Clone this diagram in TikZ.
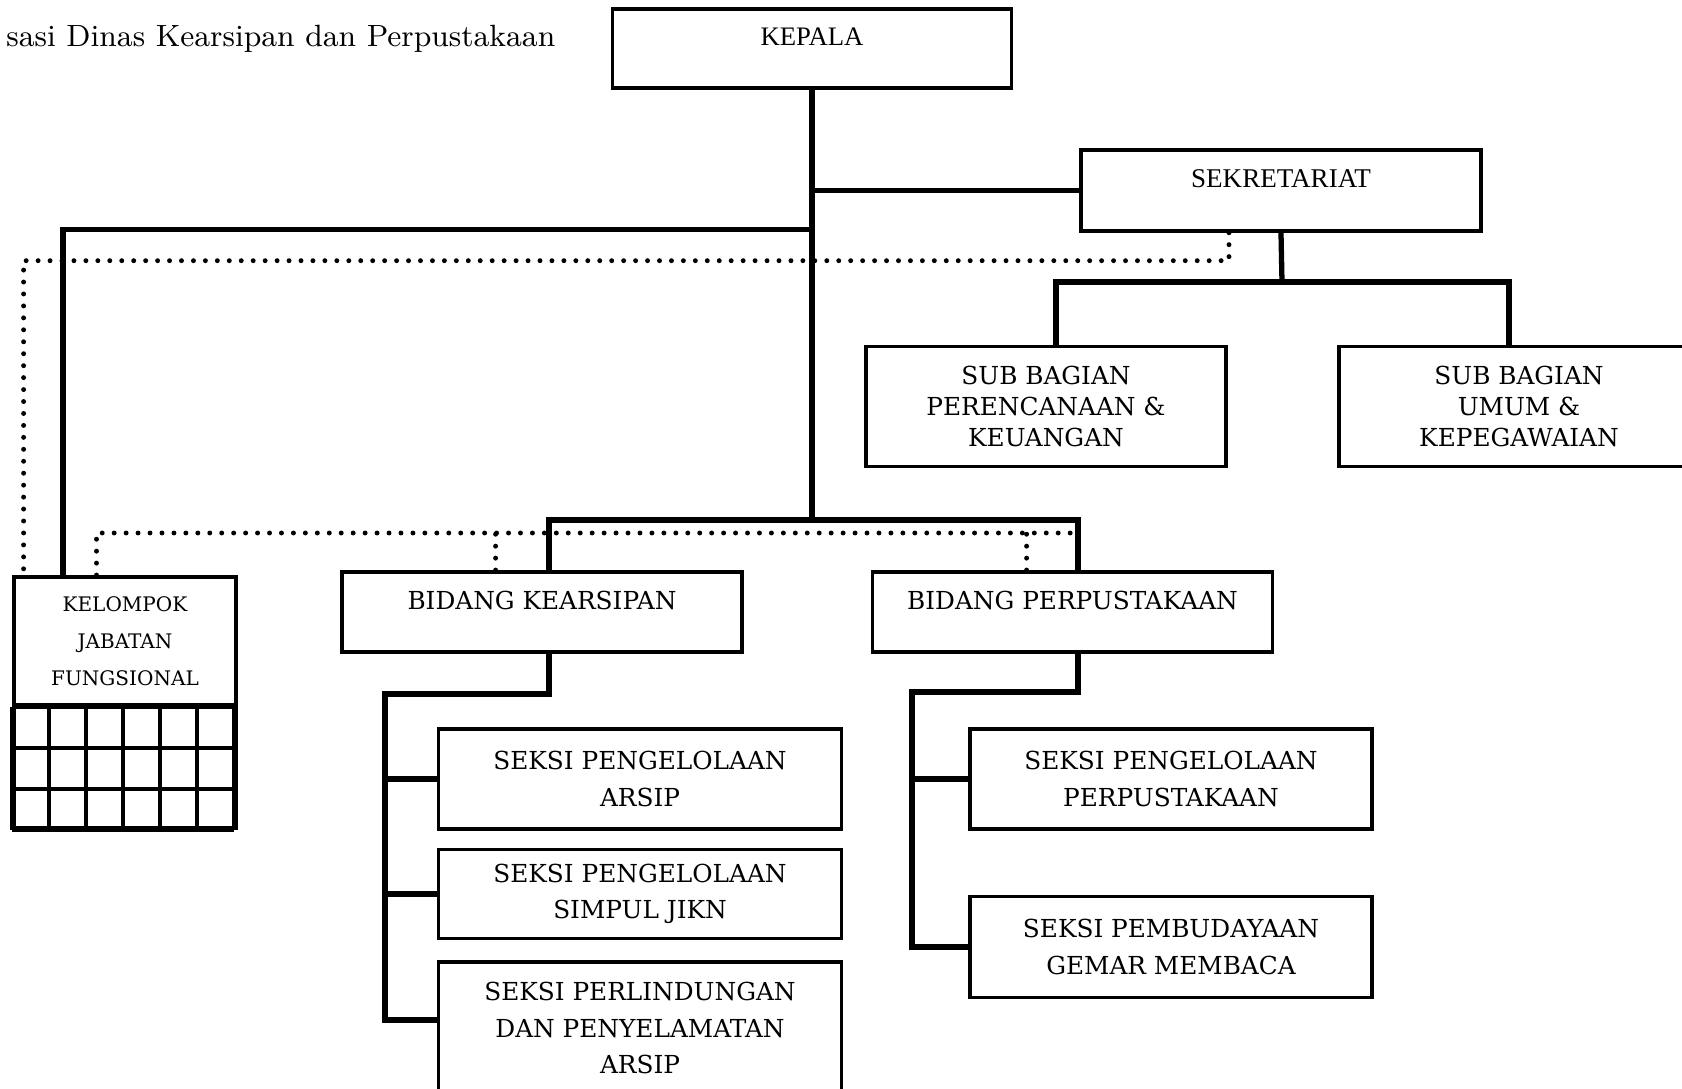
\documentclass[tikz,border=0pt]{standalone}
\usepackage{fontspec}
\newfontfamily\boxfont{DejaVu Serif}
\newfontfamily\condfont{Liberation Serif}
\begin{document}
\begin{tikzpicture}[
    unit/.style={rectangle, draw, line width=1.1pt, align=center, inner sep=0pt, font=\boxfont\fontsize{7.05}{10.4}\selectfont},
    toptext/.style={text depth=0.23cm},
    conn/.style={line width=1.5pt},
    dotline/.style={line width=1.4pt, line cap=round, dash pattern=on 0pt off 3.4pt}
]
    \useasboundingbox (0,0) rectangle (16.82,-10.89);
    \clip (0,0) rectangle (16.82,-10.89);

    % Judul
    \node[anchor=east, inner sep=0pt, font=\fontsize{8.75}{11}\selectfont] (judul) at (5.56,-0.39) {sasi Dinas Kearsipan dan Perpustakaan};

    % Kepala dan Sekretariat
    \node[unit, toptext, minimum width=3.99cm, minimum height=0.79cm, font=\condfont\fontsize{7.6}{8.4}\selectfont] (kepala) at (8.12,-0.483) {KEPALA};
    \node[unit, toptext, minimum width=4cm, minimum height=0.81cm, font=\condfont\fontsize{7.7}{8.4}\selectfont] (sekretariat) at (12.81,-1.903) {SEKRETARIAT};

    % Sub Bagian
    \node[unit, minimum width=3.6cm, minimum height=1.2cm, font=\boxfont\fontsize{7.05}{8.8}\selectfont] (subpk) at (10.46,-4.065) {SUB BAGIAN\\PERENCANAAN \&\\KEUANGAN};
    \node[unit, minimum width=3.6cm, minimum height=1.2cm, font=\boxfont\fontsize{7.05}{8.8}\selectfont] (subuk) at (15.19,-4.065) {SUB BAGIAN\\UMUM \&\\KEPEGAWAIAN};

    % Kelompok Jabatan Fungsional
    \node[unit, minimum width=2.22cm, minimum height=1.28cm, font=\boxfont\fontsize{5.7}{10.6}\selectfont] (kjf) at (1.25,-6.41) {KELOMPOK\\JABATAN\\FUNGSIONAL};
    \node[unit, minimum width=2.22cm, minimum height=1.23cm] (kjfsel) at (1.25,-7.665) {};
    \draw[line width=1.1pt, xstep=0.37cm, ystep=0.41cm, shift={(kjfsel.south west)}] (0,0) grid (2.22,1.23);

    % Bidang
    \node[unit, toptext, minimum width=4cm, minimum height=0.8cm] (bidk) at (5.42,-6.12) {BIDANG KEARSIPAN};
    \node[unit, toptext, minimum width=4cm, minimum height=0.8cm] (bidp) at (10.725,-6.12) {BIDANG PERPUSTAKAAN};

    % Seksi Kearsipan
    \node[unit, minimum width=4.03cm, minimum height=1cm] (sk1) at (6.40,-7.79) {SEKSI PENGELOLAAN\\ARSIP};
    \node[unit, minimum width=4.03cm, minimum height=0.89cm] (sk2) at (6.40,-8.94) {SEKSI PENGELOLAAN\\SIMPUL JIKN};
    \node[unit, minimum width=4.03cm, minimum height=1.32cm] (sk3) at (6.40,-10.28) {SEKSI PERLINDUNGAN\\DAN PENYELAMATAN\\ARSIP};

    % Seksi Perpustakaan
    \node[unit, minimum width=4.02cm, minimum height=1cm] (sp1) at (11.71,-7.79) {SEKSI PENGELOLAAN\\PERPUSTAKAAN};
    \node[unit, minimum width=4.02cm, minimum height=1.01cm] (sp2) at (11.71,-9.47) {SEKSI PEMBUDAYAAN\\GEMAR MEMBACA};

    % garis komando
    \coordinate (busbid) at (8.12,-5.20);
    \coordinate (buskjf) at (8.12,-2.296);
    \coordinate (bussek) at (12.82,-2.82);
    \draw[conn] (kepala.south) -- (busbid);
    \draw[conn] (kepala.south |- sekretariat.west) -- (sekretariat.west);
    \draw[conn] (buskjf) -| ([xshift=-0.62cm]kjf.north);
    \draw[conn] ([xshift=0.07cm]bidk.north) |- (busbid) -| ([xshift=0.055cm]bidp.north);
    \draw[conn] (sekretariat.south) -- (bussek);
    \draw[conn] ([xshift=0.1cm]subpk.north) |- ([xshift=-0.1cm]subuk.north |- bussek) -- ([xshift=-0.1cm]subuk.north);

    % garis koordinasi
    \coordinate (dotatas) at (0,-2.607);
    \coordinate (dotbawah) at (0,-5.33);
    \draw[dotline] ([xshift=-0.52cm]sekretariat.south) |- ([xshift=-1.014cm]kjf.north |- dotatas) -- ([xshift=-1.014cm]kjf.north);
    \draw[dotline] ([xshift=-0.285cm]kjf.north) |- ([xshift=0.055cm]bidp.north |- dotbawah);
    \draw[dotline] ([xshift=-0.464cm]bidk.north) -- ([xshift=-0.464cm]bidk.north |- dotbawah);
    \draw[dotline] ([xshift=-0.459cm]bidp.north) -- ([xshift=-0.459cm]bidp.north |- dotbawah);

    % cabang Kearsipan
    \coordinate (busk) at (3.85,-6.94);
    \draw[conn] ([xshift=0.07cm]bidk.south) |- (busk) |- ([yshift=0.08cm]sk3.west);
    \draw[conn] (busk |- sk1.west) -- (sk1.west);
    \draw[conn] (busk |- sk2.west) -- (sk2.west);

    % cabang Perpustakaan
    \coordinate (busp) at (9.12,-6.92);
    \draw[conn] ([xshift=0.055cm]bidp.south) |- (busp) |- (sp2.west);
    \draw[conn] (busp |- sp1.west) -- (sp1.west);
\end{tikzpicture}
\end{document}
